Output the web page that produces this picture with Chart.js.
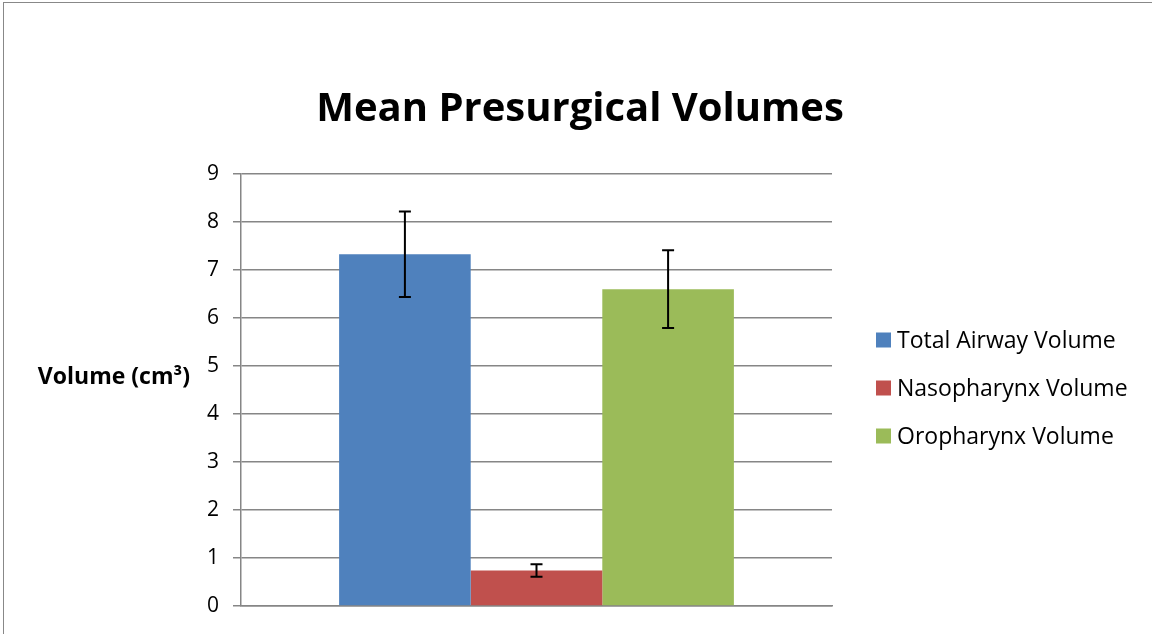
<!DOCTYPE html>
<html>
<head>
<meta charset="utf-8">
<script src="https://cdn.jsdelivr.net/npm/chart.js@4"></script>
<style>
  html, body { margin: 0; padding: 0; background: #fff; }
  #wrap { width: 1152px; height: 634px; position: relative; }
</style>
</head>
<body>
<div id="wrap"><canvas id="chart" width="1152" height="634"></canvas></div>
<script>
// chart values
const categories = [''];
const seriesNames = ['Total Airway Volume', 'Nasopharynx Volume', 'Oropharynx Volume'];
const meanVolumes = [7.33, 0.74, 6.60];
const errorValues = [0.89, 0.13, 0.81];
const seriesColors = ['#4F81BD', '#C0504D', '#9BBB59'];
const yMin = 0;
const yMax = 9;
const yStep = 1;

const FONT = '"Open Sans", sans-serif';

// frame, error bars, horizontal y-axis title and the legend
const extras = {
    id: 'extras',
    beforeDraw(chart) {
        const ctx = chart.ctx;
        ctx.save();
        ctx.strokeStyle = '#888888';
        ctx.lineWidth = 1;
        ctx.strokeRect(3.5, 2.5, 1300, 1000);
        ctx.restore();
    },
    afterDatasetsDraw(chart) {
        const ctx = chart.ctx;
        const y = chart.scales.y;
        ctx.save();
        ctx.strokeStyle = '#000';
        ctx.lineWidth = 2;
        chart.data.datasets.forEach((ds, i) => {
            const bar = chart.getDatasetMeta(i).data[0];
            const err = ds.errorBars[0];
            const v = ds.data[0];
            const top = y.getPixelForValue(v + err);
            const bot = y.getPixelForValue(v - err);
            const x = bar.x;
            ctx.beginPath();
            ctx.moveTo(x, top); ctx.lineTo(x, bot);
            ctx.moveTo(x - 6, top); ctx.lineTo(x + 6, top);
            ctx.moveTo(x - 6, bot); ctx.lineTo(x + 6, bot);
            ctx.stroke();
        });
        ctx.restore();
    },
    afterDraw(chart) {
        const ctx = chart.ctx;
        const area = chart.chartArea;
        ctx.save();
        ctx.fillStyle = '#000';
        ctx.font = 'bold 23px ' + FONT;
        ctx.textAlign = 'right';
        ctx.textBaseline = 'middle';
        ctx.fillText('Volume (cm³)', 190, 377);

        // legend
        const midY = (area.top + area.bottom) / 2;
        const rowH = 48;
        ctx.font = '23px ' + FONT;
        ctx.textAlign = 'left';
        chart.data.datasets.forEach((ds, i) => {
            const cy = midY - 2 + (i - 1) * rowH;
            ctx.fillStyle = ds.backgroundColor;
            ctx.fillRect(area.right + 44, cy - 7.5, 15, 15);
            ctx.fillStyle = '#000';
            ctx.fillText(ds.label, area.right + 65, cy + 1);
        });
        ctx.restore();
    }
};

new Chart(document.getElementById('chart'), {
    type: 'bar',
    data: {
        labels: categories,
        datasets: seriesNames.map((name, i) => ({
            label: name,
            data: [meanVolumes[i]],
            errorBars: [errorValues[i]],
            backgroundColor: seriesColors[i],
            borderWidth: 0,
            categoryPercentage: 0.668,
            barPercentage: 1
        }))
    },
    options: {
        responsive: false,
        animation: false,
        layout: { padding: { left: 8, right: 0, top: 0, bottom: 20 } },
        plugins: {
            title: {
                display: true,
                text: 'Mean Presurgical Volumes',
                color: '#000',
                font: { family: FONT, size: 40, weight: 'bold', lineHeight: 1.2 },
                padding: { top: 86, bottom: 40 }
            },
            legend: { display: false },
            tooltip: { enabled: false }
        },
        scales: {
            x: {
                grid: { display: false },
                border: { display: true, color: '#868686', width: 1.5 },
                ticks: { display: false }
            },
            y: {
                min: yMin,
                max: yMax,
                ticks: {
                    stepSize: yStep,
                    color: '#000',
                    font: { family: FONT, size: 21 },
                    padding: 14
                },
                grid: { color: '#868686', lineWidth: 1.5, tickLength: 8 },
                border: { display: true, color: '#868686', width: 1.5 },
                afterFit(s) { s.width = 233; }
            },
            legendSpace: {
                type: 'linear',
                position: 'right',
                display: true,
                grid: { display: false },
                border: { display: false },
                ticks: { display: false },
                afterFit(s) { s.width = 320; }
            }
        }
    },
    plugins: [extras]
});
</script>
</body>
</html>
